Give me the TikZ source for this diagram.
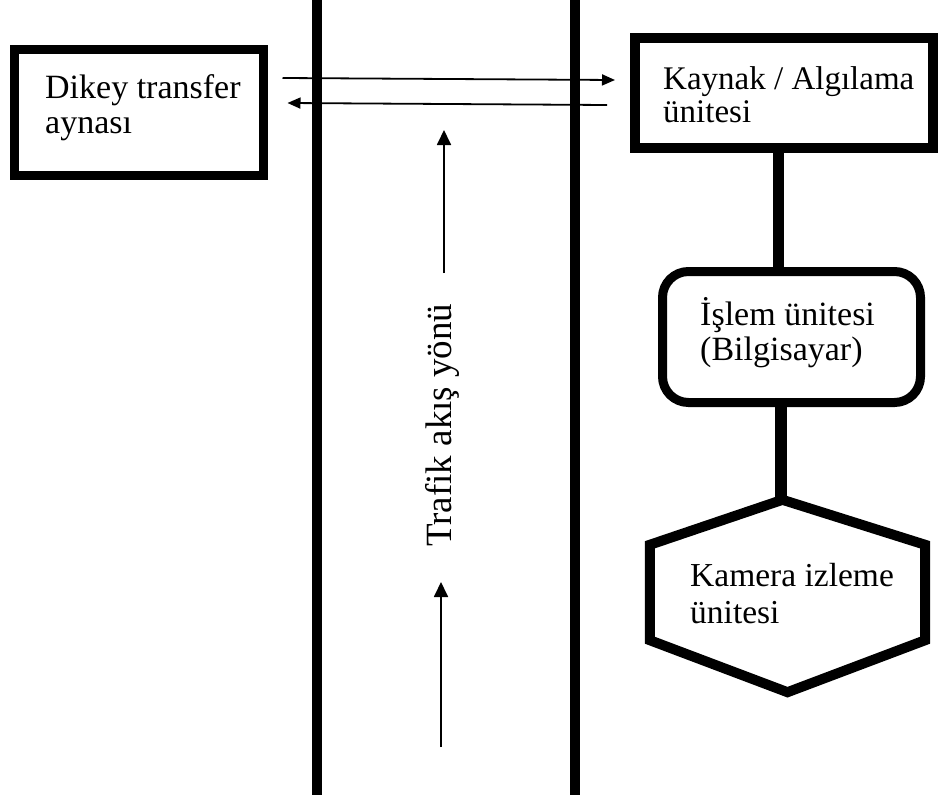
\documentclass[tikz,border=0pt]{standalone}
\usepackage{fontspec}
\setmainfont{Liberation Serif}
\usetikzlibrary{arrows.meta,calc}
\newcommand\mytwo[4]{\fontsize{#1}{#2}\selectfont\begin{tabular}[t]{@{}l@{}}#3\\#4\end{tabular}}
\begin{document}
\begin{tikzpicture}[x=1pt,y=-1pt,
  box/.style={draw=black, line width=9pt, inner sep=0pt},
  lbl/.style={inner sep=0pt, anchor=base west},
  road/.style={draw=black, line width=10pt},
  link/.style={draw=black, line width=11pt},
  arr/.style={draw=black, line width=1.8pt, -{Triangle[length=13pt,width=11pt]}},
  flow/.style={draw=black, line width=1.8pt, -{Triangle[length=15pt,width=14pt]}},
]
\fill[white] (0,0) rectangle (938,803);
\useasboundingbox (0,0) rectangle (938,803);

% road edges
\coordinate (rl1) at (317,0);
\coordinate (rl2) at (317,795);
\coordinate (rr1) at (575,0);
\coordinate (rr2) at (575,795);
\draw[road] (rl1) -- (rl2);
\draw[road] (rr1) -- (rr2);

% boxes
\node[box, minimum width=249pt, minimum height=126pt] (dikey) at (139,112.5) {};
\node[lbl] (dikeyT) at (45,98) {\mytwo{34}{35}{Dikey transfer}{aynası}};

\node[box, line width=10pt, minimum width=298pt, minimum height=110pt] (kaynak) at (784,93) {};
\node[lbl] (kaynakT) at (663,89) {\mytwo{33}{33}{Kaynak / Algılama}{ünitesi}};

\node[box, rounded corners=26pt, minimum width=258pt, minimum height=131pt] (islem) at (791.5,337) {};
\node[lbl] (islemT) at (700,325) {\mytwo{34}{35}{İşlem ünitesi}{(Bilgisayar)}};

\node[inner sep=0pt, minimum width=275pt, minimum height=192pt] (kam) at (787.5,596) {};
\draw[line width=10pt, line join=miter]
  ([xshift=-5pt]kam.north) -- ([yshift=-45pt]kam.north east) -- ([yshift=52pt]kam.south east)
  -- (kam.south) -- ([yshift=52pt]kam.south west) -- ([yshift=-45pt]kam.north west) -- cycle;
\node[lbl] (kamT) at (690,586) {\mytwo{33.5}{37}{Kamera izleme}{ünitesi}};

% connectors
\coordinate (k1) at ([xshift=-6pt]kaynak.south);
\draw[link] (k1) -- (k1 |- islem.north);
\coordinate (kamtop) at ([xshift=-7pt]kam.north);
\draw[link, line width=12pt] (islem.south -| kamtop) -- (kamtop);

% signal arrows
\draw[arr] ([xshift=14.5pt,yshift=34.5pt]dikey.east) -- ([xshift=-15pt,yshift=13pt]kaynak.west);
\draw[arr] ([xshift=-23pt,yshift=-12pt]kaynak.west) -- ([xshift=19.5pt,yshift=9.5pt]dikey.east);

% traffic direction
\node[lbl, rotate=90, font=\fontsize{37}{40}\selectfont] (trafik) at (451,547) {Trafik akış yönü};
\coordinate (f1a) at (444,273);
\coordinate (f1b) at (444,130);
\coordinate (f2a) at (441,747);
\coordinate (f2b) at (441,582);
\draw[flow] (f1a) -- (f1b);
\draw[flow] (f2a) -- (f2b);
\end{tikzpicture}
\end{document}
